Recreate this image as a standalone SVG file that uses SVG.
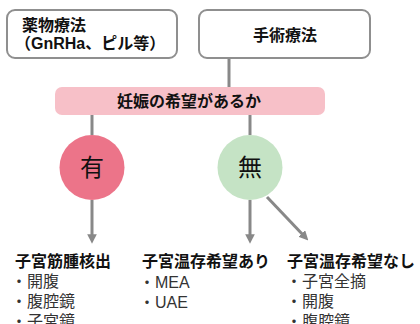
<svg xmlns="http://www.w3.org/2000/svg" width="420" height="324" viewBox="0 0 420 324">
<defs>
<style>
.t{font-family:"Liberation Sans","Noto Sans CJK JP",sans-serif;fill:#111}
.b{font-weight:bold}
.box{fill:#fff;stroke:#8f8f8f;stroke-width:2}
.ln{stroke:#888;stroke-width:3;fill:none}
.it{font-family:"Liberation Sans","Noto Sans CJK JP",sans-serif;fill:#333;font-size:16px}
</style>
<marker id="ah" viewBox="0 0 10 10" refX="5" refY="5" markerWidth="3.2" markerHeight="3.2" orient="auto" markerUnits="strokeWidth">
<path d="M0,0 L10,5 L0,10 Z" fill="#888"/>
</marker>
</defs>
<g id="connectors">
<line class="ln" x1="229" y1="58" x2="229" y2="87"/>
<line class="ln" x1="92" y1="115" x2="92" y2="135"/>
<line class="ln" x1="250" y1="115" x2="250" y2="135"/>
<line class="ln" x1="92" y1="200" x2="92" y2="239" marker-end="url(#ah)"/>
<line class="ln" x1="250" y1="200" x2="250" y2="239" marker-end="url(#ah)"/>
<line class="ln" x1="267" y1="197" x2="305" y2="237" marker-end="url(#ah)"/>
</g>
<g id="drug">
<rect class="box" x="7" y="10" width="170" height="48" rx="8"/>
<text class="t b" x="22" y="31" font-size="16">薬物療法</text>
<text class="t b" x="15" y="49" font-size="16">（GnRHa、ピル等）</text>
</g>
<g id="surgery">
<rect class="box" x="199" y="10" width="171" height="48" rx="8"/>
<text class="t b" x="285" y="41" font-size="16" text-anchor="middle">手術療法</text>
</g>
<g id="question">
<rect x="55" y="87" width="270" height="28" rx="7" fill="#f7c0c8"/>
<text class="t b" x="189" y="107" font-size="16" text-anchor="middle">妊娠の希望があるか</text>
</g>
<g id="yes">
<circle cx="92" cy="167.5" r="32.5" fill="#ec7489"/>
<text class="t" x="92" y="176" font-size="24" text-anchor="middle">有</text>
</g>
<g id="no">
<circle cx="250" cy="167.5" r="32.5" fill="#c5e3c5"/>
<text class="t" x="250" y="176" font-size="24" text-anchor="middle">無</text>
</g>
<g id="myomectomy">
<text class="t b" x="15" y="267" font-size="16">子宮筋腫核出</text>
<text class="it" x="11" y="287">・開腹</text>
<text class="it" x="11" y="307">・腹腔鏡</text>
<text class="it" x="11" y="327">・子宮鏡</text>
</g>
<g id="preserve">
<text class="t b" x="142" y="267" font-size="16">子宮温存希望あり</text>
<text class="it" x="139" y="288">・MEA</text>
<text class="it" x="139" y="308">・UAE</text>
</g>
<g id="nopreserve">
<text class="t b" x="287" y="267" font-size="16">子宮温存希望なし</text>
<text class="it" x="286" y="287">・子宮全摘</text>
<text class="it" x="286" y="307">・開腹</text>
<text class="it" x="286" y="327">・腹腔鏡</text>
</g>
</svg>
